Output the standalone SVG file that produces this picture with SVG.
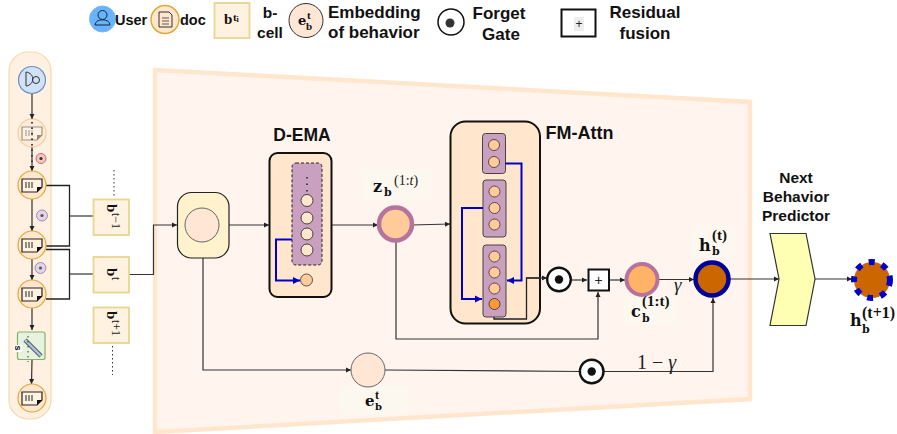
<svg xmlns="http://www.w3.org/2000/svg" width="897" height="434" viewBox="0 0 897 434">
<style>
.t{font-family:"Liberation Sans",Arial,sans-serif;font-weight:700;fill:#111}
.c{text-anchor:middle}
.m{font-family:"DejaVu Serif",serif;font-weight:700;fill:#111}
.s{font-family:"Liberation Serif","Times New Roman",serif;font-weight:700;fill:#111}
.g{font-family:"Liberation Serif","Times New Roman",serif;fill:#222}
.w{fill:none;stroke:#333;stroke-width:1.2}
.k{fill:none;stroke:#222;stroke-width:1.3}
.b{fill:none;stroke:#0000cc;stroke-width:2}
.cell{fill:#fff2e0;stroke:#e6d690;stroke-width:1.8}
.dn{fill:#ffe6cc;stroke:#e0a93a;stroke-width:1.2}
.pu{fill:#c9a0bf;stroke:#444;stroke-width:1}
.o{fill:#ffcc99;stroke:#333;stroke-width:.8}
.o2{fill:#ffe6cc;stroke:#333;stroke-width:.9}
.fm{fill:#ffe6cc;stroke:#111;stroke-width:2}
.fg{fill:#fff;stroke:#111;stroke-width:2.4}
.lb{fill:#fcf8ef}
</style>
<defs>
<marker id="a" markerWidth="6" markerHeight="6" refX="5" refY="3" orient="auto" markerUnits="userSpaceOnUse"><path d="M0,0.5L5,3L0,5.5z" fill="#222"/></marker>
<marker id="ab" markerWidth="8" markerHeight="8" refX="7" refY="4" orient="auto" markerUnits="userSpaceOnUse"><path d="M0,0.5L7,4L0,7.5z" fill="#0000cc"/></marker>
<g id="docic"><path d="M-10,-6H10V2L5,7H-10z" fill="#fff2e0" stroke="#222" stroke-width="1.2"/><path d="M10,2L5,7V2z" fill="#111"/><path d="M-6,-3V3M-3,-3V3M0,-3V3" stroke="#222" stroke-width="1"/></g>
</defs>

<!-- trapezoid panel -->
<polygon points="155,70 750,102 750,399 155,432" fill="#fff5ee" stroke="#ffe6cc" stroke-width="4.500"/>

<!-- left panel -->
<rect x="9" y="52" width="42" height="367" rx="19" fill="#fff0e2" stroke="#f0dca8" stroke-width="1.200"/>

<g id="connectors">
<path class="w" d="M32,94V119" marker-end="url(#a)"/>
<path class="w" d="M32,147V171" marker-end="url(#a)"/>
<path d="M32,122V172" fill="none" stroke="#222" stroke-width="1.400" stroke-dasharray="1.500 4"/>
<path class="w" d="M32,199V231" marker-end="url(#a)"/>
<path class="w" d="M32,259V280" marker-end="url(#a)"/>
<path class="w" d="M32,308V330" marker-end="url(#a)"/>
<path class="w" d="M32,360L31.500,384" marker-end="url(#a)"/>
<path class="k" d="M46,185.500H69.500V246H46"/>
<path class="k" d="M46,249.500H69.500V299H46"/>
<path class="w" d="M69.500,216H93"/>
<path class="w" d="M69.500,274H93"/>
<path d="M114,170V198" fill="none" stroke="#333" stroke-width="1" stroke-dasharray="1.500 2.500"/>
<path d="M112.500,346V375" fill="none" stroke="#333" stroke-width="1" stroke-dasharray="1.500 2.500"/>
<path class="w" d="M129,274.500H153.500V225H177" marker-end="url(#a)"/>
<path class="w" d="M229,225H269" marker-end="url(#a)"/>
<path class="w" d="M203,258V370H351" marker-end="url(#a)"/>
<path class="w" d="M385,370L580,371.500"/>
<path class="w" d="M604,371.500H713V298" marker-end="url(#a)"/>
<path class="w" d="M332,225H378" marker-end="url(#a)"/>
<path class="w" d="M412,225L450,224" marker-end="url(#a)"/>
<path class="w" d="M396,241V339H598V292" marker-end="url(#a)"/>
<path class="w" d="M571,280H587" marker-end="url(#a)"/>
<path class="w" d="M609,280H625" marker-end="url(#a)"/>
<path class="w" d="M657,279.500H694" marker-end="url(#a)"/>
<path class="w" d="M729,279H779" marker-end="url(#a)"/>
<path class="w" d="M815,279H852" marker-end="url(#a)"/>
</g>

<!-- legend -->
<g id="legend-user"><circle cx="102.500" cy="19" r="13" fill="#66b3ff" stroke="#7eb6ea"/><circle cx="102.500" cy="15" r="4.500" fill="none" stroke="#222"/><path d="M95,25C95,18 110,18 110,25z" fill="none" stroke="#222"/><text class="t" x="115" y="25" font-size="14.500">User</text></g>
<g id="legend-doc"><circle cx="165" cy="19.500" r="14" fill="#ffe6cc" stroke="#e0a93a" stroke-width="1.500"/><path d="M159,12H169L172,15V27H159z" fill="none" stroke="#333"/><path d="M162,18H169M162,21H169M162,24H169" stroke="#333" stroke-width=".8"/><text class="t" x="180" y="25" font-size="14.500">doc</text></g>
<g id="legend-cell"><rect class="cell" x="214.500" y="3" width="35" height="35"/><text class="s" x="224" y="24" font-size="15">b</text><text class="s" x="233" y="21" font-size="11">t</text><text class="s" x="236.500" y="22" font-size="8">i</text><text class="t c" x="270" y="18" font-size="15.500">b-</text><text class="t c" x="270" y="38" font-size="15.500">cell</text></g>
<g id="legend-embedding"><circle cx="306" cy="20.500" r="17" fill="#ffe6d5" stroke="#333"/><text class="m" x="298" y="25" font-size="13">e</text><text class="s" x="307" y="19" font-size="11">t</text><text class="s" x="306" y="30" font-size="11">b</text><text class="t" x="328" y="18" font-size="17">Embedding</text><text class="t" x="328" y="38" font-size="17">of behavior</text></g>
<g id="legend-gate"><circle cx="451" cy="22" r="13" fill="#fff" stroke="#111" stroke-width="1.500"/><circle cx="450" cy="23" r="4.500" fill="#333"/><text class="t c" x="499" y="19" font-size="17">Forget</text><text class="t c" x="501" y="40" font-size="17">Gate</text></g>
<g id="legend-residual"><rect x="561.500" y="9.500" width="34" height="27" fill="#fff" stroke="#111" stroke-width="2"/><rect x="574" y="17" width="10" height="14" fill="#eee"/><text class="c" x="579" y="27.500" font-size="12" font-family="Liberation Sans, sans-serif" fill="#222">+</text><text class="t c" x="645" y="18" font-size="17">Residual</text><text class="t c" x="645" y="39" font-size="17">fusion</text></g>

<!-- left nodes -->
<g id="user"><circle cx="32" cy="80" r="13.500" fill="#cfe2f7" stroke="#6c8ebf" stroke-width="1.200"/><path d="M26,72V86C35,85 35,73 26,72z" fill="none" stroke="#333"/><circle cx="36" cy="80" r="3.500" fill="none" stroke="#333"/></g>
<g id="doc0" opacity=".45"><circle cx="32" cy="133" r="14" class="dn"/><use href="#docic" x="32" y="133"/></g>
<path d="M32,122V146" fill="none" stroke="#222" stroke-width="1.400" stroke-dasharray="1.500 4"/>
<g id="doc1"><circle cx="32" cy="185" r="14" class="dn"/><use href="#docic" x="32" y="185"/></g>
<g id="doc2"><circle cx="32" cy="245" r="14" class="dn"/><use href="#docic" x="32" y="245"/></g>
<g id="doc3"><circle cx="32" cy="294" r="14" class="dn"/><use href="#docic" x="32" y="294"/></g>
<g id="doc4"><circle cx="32" cy="398" r="14" class="dn"/><use href="#docic" x="32" y="398"/></g>
<g id="badge1"><circle cx="41" cy="158.500" r="5" fill="#f3c6c6" stroke="#b85450" stroke-width=".8"/><circle cx="41" cy="158.500" r="1.600" fill="#333"/></g>
<g id="badge2"><circle cx="42" cy="215.500" r="5.500" fill="#e1d5e7" stroke="#9673a6" stroke-width=".8"/><circle cx="42" cy="215.500" r="1.600" fill="#555"/></g>
<g id="badge3"><circle cx="40.500" cy="268" r="5.500" fill="#e1d5e7" stroke="#9673a6" stroke-width=".8"/><circle cx="40.500" cy="268" r="1.600" fill="#555"/></g>
<g id="edit"><rect x="17.500" y="332" width="27.500" height="27.500" rx="2" fill="#e8f3df" stroke="#82b366" stroke-width="1.200"/><path d="M25,340L41,356" stroke="#444" stroke-width="4.500"/><path d="M25,340L41,356" stroke="#a9c4e0" stroke-width="2.500"/><path d="M28,336V362" stroke="#333" stroke-width="1" stroke-dasharray="1.500 3.500"/><rect x="13" y="345" width="9" height="7" fill="#fff"/><text class="t" transform="translate(15,345.500) rotate(90)" font-size="9">s</text></g>

<!-- behavior cells -->
<g id="cell-prev"><rect class="cell" x="93.500" y="199.500" width="35.500" height="35.500"/><text class="s" transform="translate(107,204) rotate(90)" font-size="15">b</text><text class="g" transform="translate(112,213) rotate(90)" font-size="12">t−1</text></g>
<g id="cell-cur"><rect class="cell" x="93.500" y="257" width="35.500" height="35.500"/><text class="s" transform="translate(107,268) rotate(90)" font-size="15">b</text><text class="g" transform="translate(112,277) rotate(90)" font-size="12">t</text></g>
<g id="cell-next"><rect class="cell" x="93.500" y="307.500" width="35.500" height="35.500"/><text class="s" transform="translate(107,311) rotate(90)" font-size="15">b</text><text class="g" transform="translate(112,320) rotate(90)" font-size="12">t+1</text></g>

<!-- gate node -->
<g id="merge"><rect x="177.500" y="192.500" width="51.500" height="65.500" rx="14" fill="#fff2cc" stroke="#222" stroke-width="1.200"/><circle cx="202" cy="225" r="17" fill="#ffe6d5" stroke="#666"/></g>

<g id="d-ema">
<text class="t c" x="302" y="141" font-size="17.500">D-EMA</text>
<rect class="fm" x="269.500" y="153" width="62" height="144" rx="8"/>
<rect x="292" y="163" width="30" height="102" rx="4" fill="#c9a0bf" stroke="#222" stroke-dasharray="3 2"/>
<path d="M307,177V192" stroke="#222" stroke-width="1.500" stroke-dasharray="1.500 5"/>
<circle class="o2" cx="307" cy="200.500" r="6"/><circle class="o2" cx="307" cy="218" r="6"/><circle class="o2" cx="307" cy="234" r="6"/><circle class="o2" cx="307" cy="250" r="6"/>
<circle class="o" cx="306.500" cy="280" r="6"/>
<path class="b" d="M292,239.500H276V280.500H300" marker-end="url(#ab)"/>
</g>

<g id="z"><rect class="lb" x="362" y="170" width="69" height="30"/>
<circle cx="395.500" cy="224" r="16.500" fill="#ffcc99" stroke="#b5739d" stroke-width="4.500"/>
<text class="m" x="373" y="192" font-size="16">z</text><text class="m" x="384" y="196" font-size="11">b</text><text class="g" x="394" y="185" font-size="14">(1:<tspan font-style="italic">t</tspan>)</text></g>

<g id="fm-attn">
<text class="t" x="545.500" y="139" font-size="18">FM-Attn</text>
<rect class="fm" x="450.500" y="121.500" width="89.500" height="202" rx="15"/>
<rect class="pu" x="482.500" y="133.500" width="23" height="40" rx="3"/>
<circle class="o" cx="494" cy="145" r="5.500"/><circle class="o" cx="494" cy="162" r="5.500"/>
<rect class="pu" x="483" y="180" width="23" height="57" rx="3"/>
<circle class="o" cx="494.500" cy="191.500" r="5.500"/><circle class="o" cx="494.500" cy="208" r="5.500"/><circle class="o" cx="494.500" cy="224.500" r="5.500"/>
<rect class="pu" x="483" y="245" width="23" height="72" rx="3"/>
<circle class="o" cx="494.500" cy="256.500" r="5.500"/><circle class="o" cx="494.500" cy="272.500" r="5.500"/><circle class="o" cx="494.500" cy="288.500" r="5.500"/><circle cx="494.500" cy="304" r="5.500" fill="#ff9933" stroke="#333" stroke-width=".8"/>
<path class="b" d="M505.500,163.500H521.500V280.500H507" marker-end="url(#ab)"/>
<path class="b" d="M483,208H462V299H482" marker-end="url(#ab)"/>
<path class="k" d="M494,317V319H526.500V278H540"/>
<path class="w" d="M526.500,278H547" marker-end="url(#a)"/>
</g>

<g id="gate1"><circle class="fg" cx="559" cy="279.500" r="11.800"/><circle cx="559" cy="279.500" r="4.200" fill="#111"/></g>
<g id="fusion"><rect x="588.500" y="269.500" width="20.500" height="21" fill="#fff" stroke="#111" stroke-width="2"/><text class="c" x="598.500" y="285" font-size="14" font-family="Liberation Sans, sans-serif" fill="#222">+</text></g>
<g id="c"><rect class="lb" x="623" y="297" width="54" height="28"/><circle cx="642" cy="279.500" r="15.500" fill="#ffb366" stroke="#b5739d" stroke-width="4"/>
<text class="m" x="631" y="317" font-size="16">c</text><text class="m" x="642" y="322" font-size="11">b</text><text class="s" x="642" y="306" font-size="15">(1:t)</text></g>
<text class="g" x="674" y="291" font-size="19" font-style="italic">γ</text>
<g id="h"><rect class="lb" x="692" y="225" width="43" height="33"/><circle cx="712" cy="279" r="16.500" fill="#cc6600" stroke="#000099" stroke-width="4.500"/>
<text class="m" x="699" y="251" font-size="16">h</text><text class="m" x="712" y="255" font-size="11">b</text><text class="s" x="712" y="240" font-size="15">(t)</text></g>

<g id="e"><rect class="lb" x="340" y="386" width="68" height="29"/><circle cx="368" cy="370" r="17" fill="#ffe6d5" stroke="#666"/>
<text class="m" x="365" y="405.500" font-size="15">e</text><text class="s" x="375" y="399" font-size="12">t</text><text class="m" x="375" y="410" font-size="10">b</text></g>
<g id="gate2"><circle class="fg" cx="591.700" cy="371.500" r="11.800"/><circle cx="591.700" cy="371.500" r="4.200" fill="#111"/></g>
<text class="g" x="637" y="369" font-size="20">1 − <tspan font-style="italic">γ</tspan></text>

<g id="predictor"><text class="t c" x="796" y="183" font-size="15.500">Next</text><text class="t c" x="796" y="202" font-size="15.500">Behavior</text><text class="t c" x="796" y="221" font-size="15.500">Predictor</text>
<polygon points="770,233.500 806,233.500 815,279 806,325.500 770,325.500 779,279" fill="#ffffb3" stroke="#333" stroke-width="1.200"/></g>

<g id="output"><circle cx="872" cy="280" r="18" fill="#cc6600" stroke="#0000cc" stroke-width="6" stroke-dasharray="6 7.500"/>
<text class="m" x="850" y="326" font-size="16">h</text><text class="m" x="862" y="333" font-size="11">b</text><text class="s" x="862" y="318" font-size="16">(t+1)</text></g>
</svg>
